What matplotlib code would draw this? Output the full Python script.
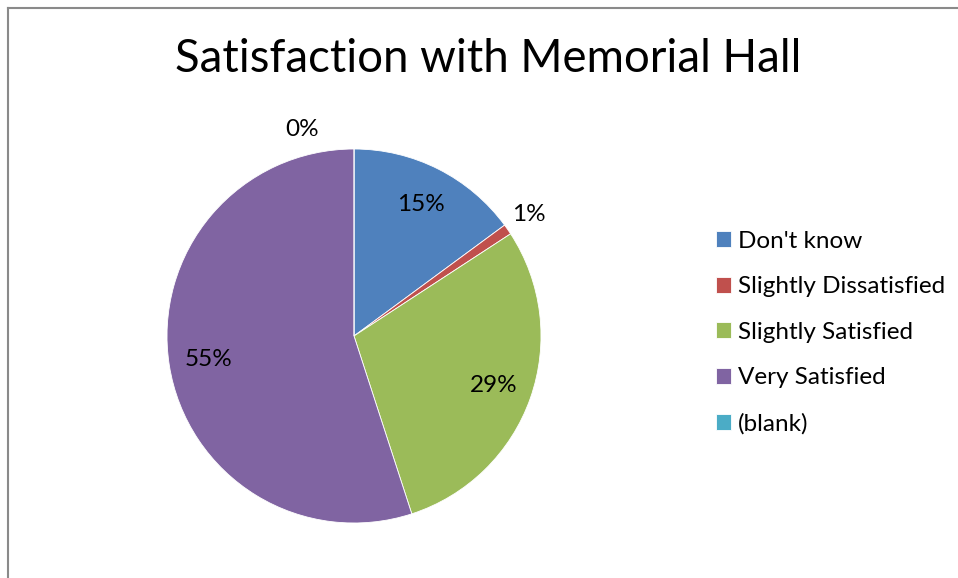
import matplotlib.pyplot as plt
from matplotlib.lines import Line2D
import numpy as np

plt.rcParams['font.family'] = ['Lato', 'DejaVu Sans']

# data
categories = ["Don't know", "Slightly Dissatisfied", "Slightly Satisfied", "Very Satisfied", "(blank)"]
shares = [14.9, 0.9, 29.2, 55.0, 0.0]
colors = ["#4F81BD", "#C0504D", "#9BBB59", "#8064A2", "#4BACC6"]

W, H = 958, 578
fig = plt.figure(figsize=(W / 100, H / 100), dpi=100)

# chart area border (only top and left visible)
fig.add_artist(Line2D([8 / W, 1], [1 - 8 / H, 1 - 8 / H], color="#8a8a8a", lw=1.5, transform=fig.transFigure))
fig.add_artist(Line2D([8 / W, 8 / W], [1 - 8 / H, 0], color="#8a8a8a", lw=1.5, transform=fig.transFigure))

# pie axes, centre (354, 336) radius 187 px
cx, cy, r = 354, 336, 187
ax = fig.add_axes([(cx - r) / W, (H - cy - r) / H, 2 * r / W, 2 * r / H])
wedges, texts, autotexts = ax.pie(
    shares, colors=colors, startangle=90, counterclock=False,
    autopct="%1.0f%%", pctdistance=0.79,
    wedgeprops=dict(edgecolor="white", linewidth=0.6),
    textprops=dict(fontsize=17.5, color="black"),
)
ax.set_xlim(-1, 1)
ax.set_ylim(-1, 1)
ax.axis("off")

# small slices get their labels outside
for w, t, v in zip(wedges, autotexts, shares):
    if v < 2:
        mid = np.deg2rad((w.theta1 + w.theta2) / 2)
        if v == 0:
            mid = np.deg2rad(90 + 14)
        t.set_position((1.14 * np.cos(mid), 1.14 * np.sin(mid)))

fig.text(488 / W, 1 - 59 / H, "Satisfaction with Memorial Hall", ha="center", va="center", fontsize=32.8)

fig.legend(
    wedges, categories, loc="upper left", bbox_to_anchor=(706 / W, 1 - 221 / H),
    frameon=False, fontsize=17.5, handlelength=0.62, handleheight=0.62,
    handletextpad=0.3, labelspacing=1.01, borderaxespad=0,
)

fig.savefig("out.png", dpi=100)
